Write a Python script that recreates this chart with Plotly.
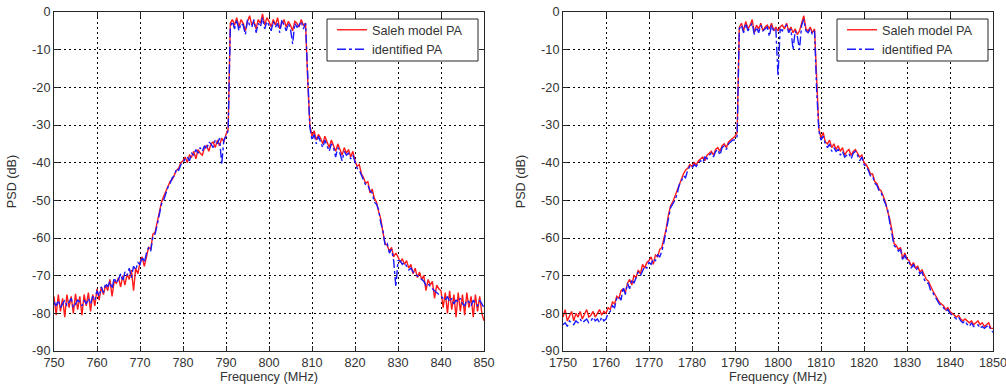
import numpy as np
import plotly.graph_objects as go

# ---------------- data (0.5 MHz sampling) ----------------
f_start_left, f_start_right, f_step = 750.0, 1750.0, 0.5

left_saleh = [
    -75.5, -80.5, -75, -79.5, -76, -81, -75, -78.5, -75.5, -80, -74.8, -79, -75.5, -80.5, -75, -78, -74.5, -79.5, -75, -78,
    -73.5, -76.5, -73, -75, -72.5, -74, -71, -75.5, -71.5, -72, -70.5, -73, -70, -72.5, -69.5, -71, -68.5, -74, -68, -69.5,
    -66.5, -65, -67.5, -64.5, -62.5, -63, -59, -58.5, -56, -53.5, -50.5, -49, -47.5, -46, -45, -44.5, -43, -42, -41.5, -40,
    -39.5, -38.5, -40, -38, -38.5, -37, -39, -36.5, -37.5, -38, -36, -35.5, -37, -35, -34.5, -36, -34, -35.5, -33.5, -34.5,
    -32.5, -31, -3, -2, -3.5, -1.5, -4, -2, -3, -5, -2.5, -1, -3.5, -2.5, -4.5, -2, -3, -0.5, -3.5, -1.5,
    -2.5, -4, -2, -3.5, -1.5, -4.5, -3, -2, -4, -2.5, -3.5, -5, -2.5, -3, -4, -2, -3.5, -3, -18, -30,
    -33, -31.5, -34, -32.5, -33.5, -35, -33, -34.5, -36, -34, -35.5, -37, -35, -36.5, -38, -36, -37.5, -36.5, -38.5, -37,
    -39.5, -41, -40.5, -43, -44, -45.5, -45, -48, -47, -49.5, -50.5, -53, -55, -58.5, -61.5, -62, -63.5, -62.5, -65, -64,
    -65, -66.5, -65.5, -67, -66, -68, -67, -69.5, -68, -70.5, -69, -71, -70, -74, -71, -72.5, -71.5, -76, -72.5, -73.5,
    -74, -78.5, -74.5, -80, -74, -79, -75, -81, -74.5, -79.5, -75, -80.5, -74.5, -78.5, -75.5, -81, -75, -79.5, -75.5, -80,
    -82,
]
left_ident = [
    -77, -78, -76.5, -78.5, -77.5, -76.5, -78, -77, -76, -78.5, -77.5, -76.5, -77, -78, -76.5, -77.5, -76, -77.5, -75.5, -76.5,
    -74, -75.5, -73, -74.5, -72, -73, -71.5, -73.5, -70.5, -72, -71, -69.5, -71.5, -69, -70, -68, -70.5, -67.5, -68.5, -66.5,
    -67, -65, -66.5, -64, -62.5, -63.5, -59.5, -59, -56.5, -54, -51, -50, -48, -46.5, -45.5, -44, -43.5, -41.5, -42, -40.5,
    -40, -39, -38.5, -39.5, -37.5, -38, -36.5, -37.5, -36, -37, -35.5, -36.5, -34.5, -35, -36, -34, -35, -33.5, -40.5, -34,
    -33, -31.5, -4, -2.5, -4.5, -2, -5, -3, -3.5, -6, -2, -3.5, -4, -2, -5.5, -3, -4, -1.5, -4.5, -2.5,
    -3.5, -5, -2.5, -4, -3, -5.5, -2, -3.5, -5, -3, -4.5, -8.5, -3, -4, -3.5, -2.5, -4.5, -3, -19, -30.5,
    -34, -32.5, -35, -33, -34.5, -36, -34, -35.5, -37, -35, -36, -38.5, -36, -37.5, -39.5, -37, -38, -37.5, -39, -38,
    -40, -41.5, -42, -43.5, -44.5, -46, -46, -47.5, -48, -50.5, -51, -52.5, -56, -58, -62, -61.5, -64, -63, -66, -73,
    -66, -66, -67, -66.5, -67.5, -68.5, -68, -69, -69.5, -70, -70.5, -71, -71.5, -72.5, -72, -73, -73.5, -74, -74.5, -75,
    -75.5, -76, -76.5, -75.5, -77, -76, -77.5, -76.5, -77, -76, -77.5, -78, -76.5, -77, -78, -76.5, -77.5, -78, -76.5, -77.5,
    -78.5,
]
right_saleh = [
    -81, -79, -82, -80.5, -79.5, -82, -80, -81, -79.5, -81.5, -80, -79, -81, -80.5, -79.5, -81, -80, -79, -80.5, -79.5,
    -80, -78.5, -79, -77, -77.5, -75.5, -76, -74, -73.5, -74.5, -72, -71, -72.5, -70, -70.5, -68.5, -69.5, -67, -68, -66.5,
    -66, -65, -67, -64.5, -65, -63, -62.5, -60, -57.5, -54, -51.5, -50.5, -49, -47, -45.5, -44.5, -43, -42, -41.5, -40.5,
    -41, -40, -40.5, -39.5, -39, -38.5, -39.5, -38, -37.5, -37, -38, -36.5, -36, -37, -35.5, -35, -36, -34.5, -34, -33.5,
    -33, -32, -4, -3, -5, -2.5, -4.5, -3.5, -2, -5.5, -3.5, -4.5, -3, -5, -4, -3.5, -4.5, -3, -5, -4,
    -5, -4, -3.5, -4.5, -3, -5, -4, -5.5, -4.5, -6, -5, -3, -1, -4.5, -5, -4, -5.5, -4.5, -20, -31,
    -33.5, -32, -34.5, -35, -34, -36, -35, -36.5, -35.5, -37, -36, -38, -37, -36.5, -38, -37, -36.5, -37.5, -38.5, -38,
    -40, -40.5, -41.5, -43, -43, -45, -45.5, -47, -47.5, -49, -50.5, -53, -55, -58, -61.5, -62, -63, -62.5, -65.5, -64,
    -65.5, -66, -67.5, -66.5, -68, -67.5, -69, -68.5, -70, -71, -71.5, -73, -74, -75, -76, -77, -77.5, -78, -79, -78.5,
    -79.5, -80, -80.5, -81, -80.5, -81.5, -82, -81.5, -82, -82.5, -82, -83, -82.5, -82, -83, -82.5, -83.5, -83, -82.5, -84,
    -84,
]
right_ident = [
    -83, -82.5, -83.5, -82, -82.5, -83, -82, -82.5, -81.5, -82.5, -82, -81.5, -82.5, -82, -81, -82, -81.5, -82.5, -81, -82,
    -81.5, -80, -79.5, -78, -78.5, -76, -75.5, -76.5, -73, -75, -72, -73.5, -71, -72, -70.5, -69, -70, -68.5, -67.5, -68,
    -66.5, -67, -65.5, -66, -64.5, -65, -63.5, -61, -58, -56, -52, -51, -50, -48.5, -46, -45, -43.5, -44, -42, -41,
    -41.5, -40.5, -41, -40, -39.5, -40, -38.5, -39, -38, -37.5, -38.5, -37, -36.5, -38, -36, -35.5, -36.5, -35, -34.5, -34,
    -34, -33, -4.5, -3.5, -5.5, -3, -5, -4, -3, -6, -4, -5.5, -3.5, -5, -4.5, -4, -6.5, -3.5, -5, -4.5,
    -17, -4.5, -5, -4, -3.5, -5.5, -4.5, -10, -5, -6.5, -10, -3.5, -2, -5, -5.5, -4.5, -6, -5, -21, -31.5,
    -34, -33, -35, -36, -35, -37, -36, -37, -36.5, -38, -37, -38.5, -38, -37.5, -39, -37.5, -37, -38, -39.5, -38.5,
    -40.5, -41, -42, -43.5, -43.5, -45.5, -46, -47.5, -48, -49.5, -51, -52.5, -56, -59, -62, -62.5, -63.5, -63, -66, -64.5,
    -66, -66.5, -68, -67, -68.5, -68, -69.5, -69, -71, -72, -72, -74, -74.5, -75.5, -76.5, -77.5, -78, -78.5, -79.5, -79,
    -80, -80.5, -81, -81.5, -81, -82, -82.5, -82, -83, -83.5, -82.5, -83.5, -83, -83, -84, -83.5, -84, -83.5, -83, -84.5,
    -85,
]

freq_left = f_start_left + f_step * np.arange(len(left_saleh))
freq_right = f_start_right + f_step * np.arange(len(right_saleh))

x_ticks_left = [750, 760, 770, 780, 790, 800, 810, 820, 830, 840, 850]
x_ticks_right = [1750, 1760, 1770, 1780, 1790, 1800, 1810, 1820, 1830, 1840, 1850]
y_ticks = [-90, -80, -70, -60, -50, -40, -30, -20, -10, 0]
y_tick_text = ["-90", "-80", "-70", "-60", "-50", "-40", "-30", "-20", "-10", "0"]
series_names = ["Saleh model PA", "identified PA"]

# ---------------- figure ----------------
W, H = 1006, 389
FONT = "Arial, 'Liberation Sans', Helvetica, sans-serif"
TXT = "#333333"
FS = 12.7

plot_top, plot_bot = 12, 351
plot_h = plot_bot - plot_top

def pyp(v):  # pixel row -> paper y
    return (plot_bot - v) / plot_h

fig = go.Figure()
red = "#ff1a1a"
blue = "#1a1aff"

fig.add_trace(go.Scatter(x=freq_left, y=left_saleh, mode="lines", name=series_names[0],
                         line=dict(color=red, width=1.4), xaxis="x", yaxis="y", legend="legend"))
fig.add_trace(go.Scatter(x=freq_left, y=left_ident, mode="lines", name=series_names[1],
                         line=dict(color=blue, width=1.4, dash="dashdot"), xaxis="x", yaxis="y", legend="legend"))
fig.add_trace(go.Scatter(x=freq_right, y=right_saleh, mode="lines", name=series_names[0],
                         line=dict(color=red, width=1.4), xaxis="x2", yaxis="y2", legend="legend2"))
fig.add_trace(go.Scatter(x=freq_right, y=right_ident, mode="lines", name=series_names[1],
                         line=dict(color=blue, width=1.4, dash="dashdot"), xaxis="x2", yaxis="y2", legend="legend2"))

common_axis = dict(
    showline=True, linecolor="#262626", linewidth=1, mirror="ticks",
    ticks="inside", ticklen=5, tickcolor="#262626", tickwidth=1,
    showgrid=True, gridcolor="#000000", gridwidth=1, griddash="2px,3px",
    zeroline=False, automargin=False, ticklabeloverflow="allow",
    tickfont=dict(family=FONT, size=FS, color=TXT),
)
title_font = dict(family=FONT, size=FS, color=TXT)

xl = dict(common_axis, domain=[54 / W, 484 / W], range=[750, 850], tickvals=x_ticks_left,
          tickformat="d", anchor="y", title=dict(text="Frequency (MHz)", font=title_font, standoff=1))
xr = dict(common_axis, domain=[563 / W, 993 / W], range=[1750, 1850], tickvals=x_ticks_right,
          tickformat="d", anchor="y2", title=dict(text="Frequency (MHz)", font=title_font, standoff=1))
yl = dict(common_axis, domain=[0, 1], range=[-90, 0], tickvals=y_ticks, ticktext=y_tick_text, anchor="x",
          title=dict(text="PSD (dB)", font=title_font, standoff=12))
yr = dict(common_axis, domain=[0, 1], range=[-90, 0], tickvals=y_ticks, ticktext=y_tick_text, anchor="x2",
          title=dict(text="PSD (dB)", font=title_font, standoff=12))

# legends: plotly legend (transparent, no border) over a hand-placed framed box
leg_common = dict(bgcolor="rgba(0,0,0,0)", borderwidth=0,
                  font=dict(family=FONT, size=FS, color=TXT),
                  xanchor="left", yanchor="top", tracegroupgap=0, itemwidth=30)
legend_boxes = [(327, 478, 19, 61), (837, 988, 19, 61)]
shapes = [dict(type="rect", xref="paper", yref="paper", layer="above",
               x0=x0 / W, x1=x1 / W, y0=pyp(y1), y1=pyp(y0),
               line=dict(color="#262626", width=1), fillcolor="white")
          for (x0, x1, y0, y1) in legend_boxes]

fig.update_layout(
    width=W, height=H,
    margin=dict(l=0, r=0, t=plot_top, b=H - plot_bot, autoexpand=False),
    paper_bgcolor="white", plot_bgcolor="white",
    xaxis=xl, yaxis=yl, xaxis2=xr, yaxis2=yr,
    legend=dict(leg_common, x=332 / W, y=pyp(15)),
    legend2=dict(leg_common, x=842 / W, y=pyp(15)),
    shapes=shapes,
    showlegend=True,
)

# remove the default 8 px page margin so the figure sits at the window origin
fig.write_html("out.html", config={"displayModeBar": False},
               post_script="document.body.style.margin='0';document.body.style.overflow='hidden';")
